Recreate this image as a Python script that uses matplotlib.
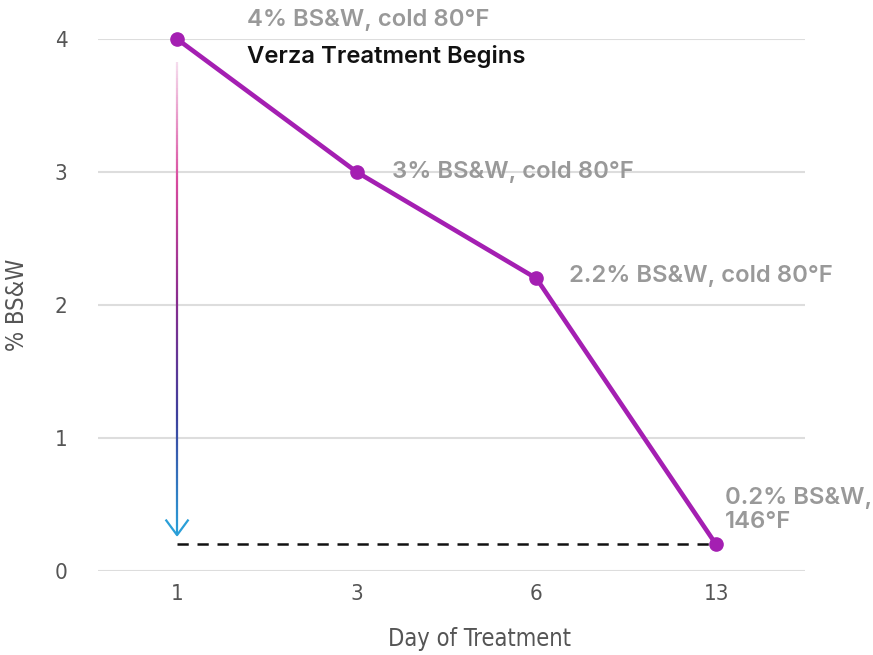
import matplotlib.pyplot as plt
import numpy as np
from matplotlib.collections import LineCollection
from matplotlib.colors import LinearSegmentedColormap

# Data
days = ['1', '3', '6', '13']
bsw = [4, 3, 2.2, 0.2]
point_labels = ['4% BS&W, cold 80°F', '3% BS&W, cold 80°F',
                '2.2% BS&W, cold 80°F', '0.2% BS&W,\n146°F']
yticks = [0, 1, 2, 3, 4]

purple = '#a41fb2'
grey_txt = '#999999'

fig = plt.figure(figsize=(8.73, 6.55), dpi=100)
ax = fig.add_axes([98/873, 1 - 571/655, 707/873, 532/655])

x = np.arange(len(days))

# gridlines
for y in yticks:
    ax.axhline(y, color='#dddddd', linewidth=1.5, zorder=0)

# main line
ax.plot(x, bsw, color=purple, linewidth=3.3, marker='o', markersize=9.5,
        clip_on=False, zorder=4)

# dashed target line
ax.plot([x[0], x[-1]], [bsw[-1], bsw[-1]], color='#111111', linestyle=(0, (4.5, 3.5)),
        linewidth=1.8, zorder=3)

# gradient arrow
cmap = LinearSegmentedColormap.from_list('arr', ['#f5dced', '#d84a9e', '#8a2c8e',
                                                 '#3d3f9c', '#2a9fd8'])
y_top, y_bot = 3.83, 0.27
ys = np.linspace(y_top, y_bot, 200)
segs = [[(x[0], ys[i]), (x[0], ys[i + 1])] for i in range(len(ys) - 1)]
lc = LineCollection(segs, cmap=cmap, linewidth=1.6, zorder=3)
lc.set_array(np.linspace(0, 1, len(segs)))
ax.add_collection(lc)
ax.plot([x[0] - 0.06, x[0], x[0] + 0.06], [y_bot + 0.11, y_bot, y_bot + 0.11],
        color='#2a9fd8', linewidth=1.6, zorder=3)

# annotations
fs = 17.2
lab_font = dict(fontsize=fs, fontweight='semibold', color=grey_txt, family='Inter')
ax.text(x[0] + 0.39, bsw[0] + 0.143, point_labels[0], ha='left', va='center', **lab_font)
ax.text(x[0] + 0.39, bsw[0] - 0.135, 'Verza Treatment Begins', ha='left', va='center',
        fontsize=fs, fontweight='semibold', color='#111111', family='Inter')
ax.text(x[1] + 0.195, bsw[1], point_labels[1], ha='left', va='center', **lab_font)
ax.text(x[2] + 0.18, bsw[2] + 0.02, point_labels[2], ha='left', va='center', **lab_font)
ax.text(x[3] + 0.05, bsw[3] + 0.256, point_labels[3], ha='left', va='center',
        linespacing=1.12, **lab_font)

ax.set_xlim(-0.44, 3.495)
ax.set_ylim(0, 4)
ax.set_xticks(x)
ax.set_xticklabels(days)
ax.set_yticks(yticks)
for s in ax.spines.values():
    s.set_visible(False)
ax.tick_params(length=0, labelsize=16, labelcolor='#555555', pad=9)
ax.tick_params(axis='y', pad=22)
for t in ax.get_xticklabels() + ax.get_yticklabels():
    t.set_family('DejaVu Sans')
    t.set_fontstretch('condensed')

ax.set_xlabel('Day of Treatment', fontsize=17, color='#555555',
              family='DejaVu Sans', fontstretch='condensed')
ax.set_ylabel('% BS&W', fontsize=17, color='#555555',
              family='DejaVu Sans', fontstretch='condensed')
ax.xaxis.set_label_coords(0.54, -0.106)
ax.yaxis.set_label_coords(-0.097, 0.5)

fig.savefig('out.png', dpi=100)
